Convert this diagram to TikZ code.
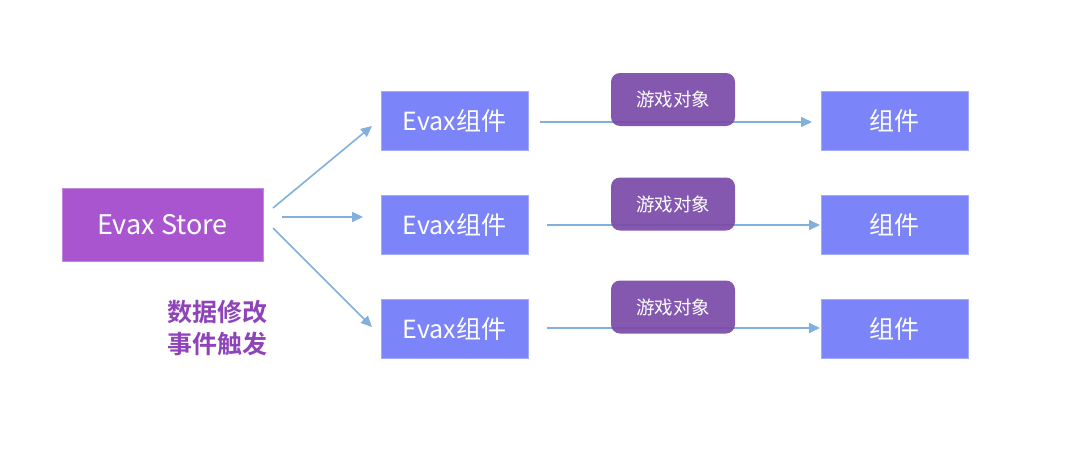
\documentclass[tikz,border=0pt]{standalone}
\usepackage{fontspec}
\setmainfont{Noto Sans CJK SC}
\newfontfamily\cjkbold{Noto Sans CJK SC Bold}
\usetikzlibrary{arrows.meta}
\definecolor{storec}{HTML}{A855CF}
\definecolor{compc}{HTML}{7B84F9}
\definecolor{objc}{HTML}{7A4BA8}
\definecolor{arrc}{HTML}{80B0DC}
\definecolor{notec}{HTML}{8E44B8}
\tikzset{
  storebox/.style={fill=storec, draw=storec!70!white, line width=0.6pt, minimum width=201pt, minimum height=73pt, text=white, font=\fontsize{27}{30}\selectfont, inner sep=0pt},
  compbox/.style={fill=compc, draw=compc!70!white, line width=0.6pt, minimum width=147pt, minimum height=59pt, text=white, font=\fontsize{25}{28}\selectfont, inner sep=0pt},
  objbox/.style={fill=objc, fill opacity=0.93, text opacity=1, rounded corners=9pt, minimum width=124pt, minimum height=53pt, text=white, font=\fontsize{18.5}{22}\selectfont, inner sep=0pt},
  flow/.style={draw=arrc, line width=1.6pt, -{Triangle[length=11pt,width=10pt]}},
}
\begin{document}
\begin{tikzpicture}[x=1pt,y=-1pt]
\useasboundingbox (0,0) rectangle (1080,450);
\node[storebox] (store) at (162.5,224.5) {Evax Store};
\node[compbox] (e1) at (454.5,120.5) {Evax组件};
\node[compbox] (e2) at (454.5,225) {Evax组件};
\node[compbox] (e3) at (454.5,329) {Evax组件};
\node[compbox] (c1) at (894.5,120.5) {组件};
\node[compbox] (c2) at (894.5,225) {组件};
\node[compbox] (c3) at (894.5,329) {组件};
\coordinate (s1) at (273,208);
\coordinate (s2) at (282,217);
\coordinate (s3) at (273,228);
\coordinate (t1) at (372,126);
\coordinate (t2) at (363,217);
\coordinate (t3) at (372,327);
\draw[flow] (s1) -- (t1);
\draw[flow] (s2) -- (t2);
\draw[flow] (s3) -- (t3);
\coordinate (a1) at (540,122);
\coordinate (a2) at (547,225);
\coordinate (a3) at (547,328);
\coordinate (b1) at (812,122);
\coordinate (b2) at (820,225);
\coordinate (b3) at (820,328);
\draw[flow] (a1) -- (b1);
\draw[flow] (a2) -- (b2);
\draw[flow] (a3) -- (b3);
\node[objbox] (o1) at (673,99.5) {游戏对象};
\node[objbox] (o2) at (673,204) {游戏对象};
\node[objbox] (o3) at (673,307) {游戏对象};
\node[text=notec, font=\cjkbold\fontsize{25}{32}\selectfont, align=center] (note) at (217,328) {数据修改\\事件触发};
\end{tikzpicture}
\end{document}
